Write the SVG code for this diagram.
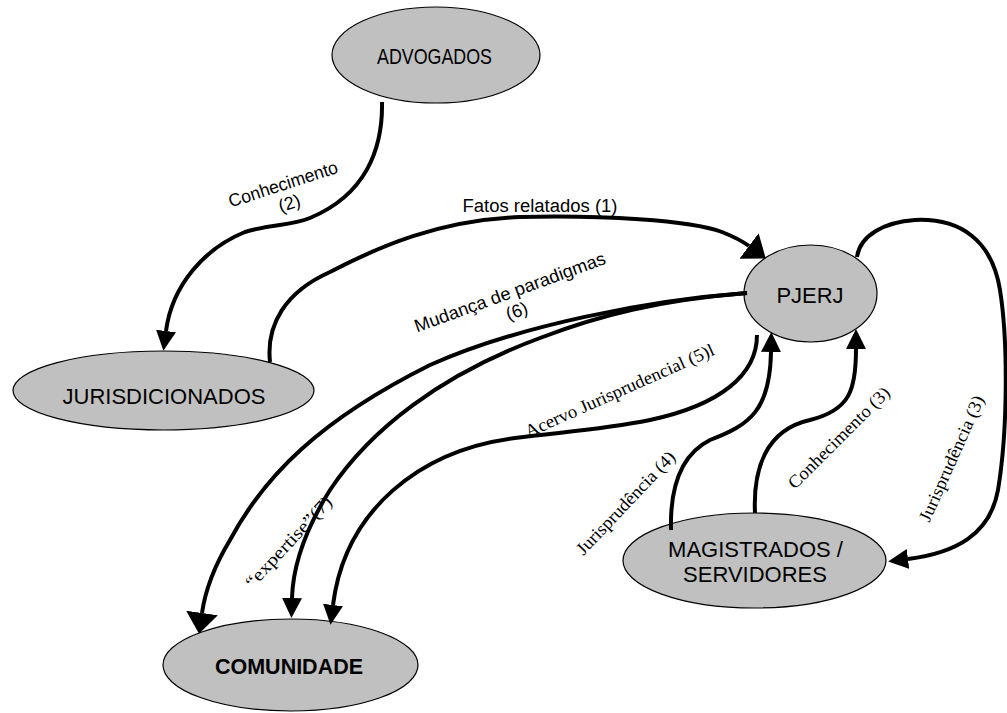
<svg xmlns="http://www.w3.org/2000/svg" width="1007" height="713" viewBox="0 0 1007 713">
<defs>
<style>
.node ellipse{fill:#c0c0c0;stroke:#000;stroke-width:1.2}
.nt{font-family:"Liberation Sans",Arial,sans-serif;font-size:22px;fill:#000;text-anchor:middle}
.edge{fill:none;stroke:#000;stroke-width:4}
.ls{font-family:"Liberation Sans",Arial,sans-serif;font-size:18px;fill:#000;text-anchor:middle}
.lr{font-family:"Liberation Serif","Times New Roman",serif;font-size:18px;fill:#000;text-anchor:middle}
</style>
<marker id="ah" markerUnits="userSpaceOnUse" markerWidth="20" markerHeight="20" viewBox="0 0 20 20" refX="0" refY="10" orient="auto">
<path d="M0,0 L20,10 L0,20 z" fill="#000"/>
</marker>
<marker id="ahb" markerUnits="userSpaceOnUse" markerWidth="21" markerHeight="32" viewBox="0 0 21 32" refX="0" refY="16" orient="auto">
<path d="M0,0 L21,16 L0,32 z" fill="#000"/>
</marker>
</defs>
<rect width="1007" height="713" fill="#fff"/>

<g id="labels">
<text class="ls" transform="rotate(-18 285 190)"><tspan x="285" y="190" textLength="114" lengthAdjust="spacingAndGlyphs">Conhecimento</tspan><tspan x="285" y="210">(2)</tspan></text>
<text class="ls" x="540" y="212" textLength="155" lengthAdjust="spacingAndGlyphs">Fatos relatados (1)</text>
<text class="ls" transform="rotate(-20 512 298)"><tspan x="512" y="298" textLength="202" lengthAdjust="spacingAndGlyphs">Mudança de paradigmas</tspan><tspan x="512" y="318">(6)</tspan></text>
<text class="lr" transform="rotate(-24 622 396)" x="622" y="396" textLength="205" lengthAdjust="spacingAndGlyphs">Acervo Jurisprudencial (5)l</text>
<text class="lr" transform="rotate(-47 293 546)" x="293" y="546" textLength="118" lengthAdjust="spacingAndGlyphs">“expertise”(7)</text>
<text class="lr" transform="rotate(-46.5 630 507)" x="630" y="507" textLength="135" lengthAdjust="spacingAndGlyphs">Jurisprudência (4)</text>
<text class="lr" transform="rotate(-45 843 442)" x="843" y="442" textLength="136" lengthAdjust="spacingAndGlyphs">Conhecimento (3)</text>
<text class="lr" transform="rotate(-66 957 461)" x="957" y="461" textLength="136" lengthAdjust="spacingAndGlyphs">Jurisprudência (3)</text>
</g>

<g id="nodes">
<g id="advogados" class="node"><ellipse cx="436" cy="55" rx="104" ry="48"/><text class="nt" x="434.5" y="64" textLength="115" lengthAdjust="spacingAndGlyphs">ADVOGADOS</text></g>
<g id="jurisdicionados" class="node"><ellipse cx="163.5" cy="390.5" rx="150.5" ry="39.5"/><text class="nt" x="164" y="404">JURISDICIONADOS</text></g>
<g id="pjerj" class="node"><ellipse cx="810.5" cy="293.5" rx="66.5" ry="48.5"/><text class="nt" x="810" y="303">PJERJ</text></g>
<g id="magistrados" class="node"><ellipse cx="754.5" cy="560.5" rx="131.5" ry="47.5"/><text class="nt"><tspan x="755.5" y="557">MAGISTRADOS /</tspan><tspan x="755" y="582">SERVIDORES</tspan></text></g>
<g id="comunidade" class="node"><ellipse cx="290.5" cy="665" rx="127.5" ry="46"/><text class="nt" x="289" y="674" font-size="21" font-weight="bold" textLength="148" lengthAdjust="spacingAndGlyphs">COMUNIDADE</text></g>
</g>

<g id="connectors">
<path class="edge" marker-end="url(#ah)" d="M382,102 C383,150 365,195 310,218 C290,226 270,224 245,232 C205,248 172,285 166,331"/>
<path class="edge" marker-end="url(#ahb)" d="M270,362 C266,325 285,292 330,272 C380,246 440,220 520,217 C600,215 690,220 722,232 C732,236 741,240 749,246"/>
<path class="edge" marker-end="url(#ahb)" d="M747,293 C650,300 520,325 430,365 C320,420 265,475 230,540 C215,565 205,592 202,613"/>
<path class="edge" marker-end="url(#ah)" d="M747,293 C660,300 600,315 540,338 C440,375 370,430 330,490 C305,530 293,565 292,598"/>
<path class="edge" marker-end="url(#ah)" d="M757,335 C757,375 720,405 650,420 C600,430 560,432 515,438 C420,450 345,510 333,605"/>
<path class="edge" marker-end="url(#ah)" d="M671,530 C670,490 680,455 710,440 C750,425 770,410 771,352"/>
<path class="edge" marker-end="url(#ah)" d="M755,513 C753,470 765,430 810,420 C850,410 856,390 856,349"/>
<path class="edge" marker-end="url(#ah)" d="M857,257 C860,235 885,222 915,220 C960,218 992,240 1000,290 C1008,340 1008,430 998,490 C990,535 955,553 908,559"/>
</g>
</svg>
